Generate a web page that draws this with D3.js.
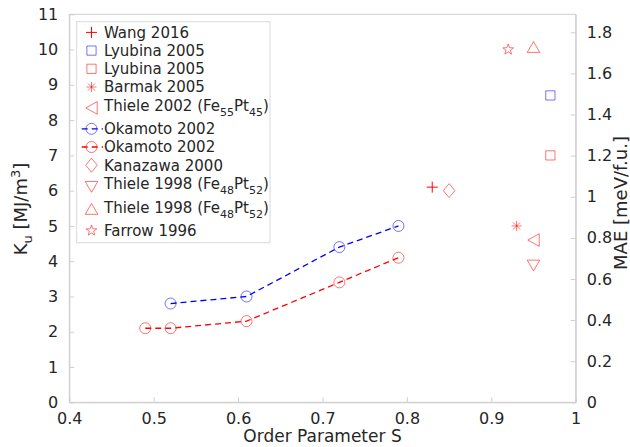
<html lang="en">
<head>
    <meta charset="UTF-8">
    <title>Order parameter vs anisotropy</title>
    <style>
        body { margin: 0; background: #fff; }
        text { font-family: "DejaVu Sans", sans-serif; fill: #262626; }
    </style>
</head>
<body>
<script src="https://d3js.org/d3.v7.min.js"></script>
<svg id="chart"></svg>
<script>
    // data
    var okamotoBlueS = [0.52, 0.61, 0.72, 0.79],
        okamotoBlueK = [2.8, 3.0, 4.4, 5.0];
    var okamotoRedS = [0.49, 0.52, 0.61, 0.72, 0.79],
        okamotoRedK = [2.1, 2.1, 2.3, 3.4, 4.1];

    var pointNames = ["Wang 2016", "Lyubina 2005", "Lyubina 2005", "Barmak 2005",
                      "Thiele 2002", "Kanazawa 2000", "Thiele 1998", "Thiele 1998", "Farrow 1996"];
    var pointS = [0.83, 0.97, 0.97, 0.93, 0.95, 0.85, 0.95, 0.95, 0.92];
    var pointK = [6.1, 8.7, 7.0, 5.0, 4.6, 6.0, 3.9, 10.05, 10.0];

    var xTicks = [0.4, 0.5, 0.6, 0.7, 0.8, 0.9, 1];
    var yTicks = [0, 1, 2, 3, 4, 5, 6, 7, 8, 9, 10, 11];
    var maeTicks = [0, 0.2, 0.4, 0.6, 0.8, 1, 1.2, 1.4, 1.6, 1.8];
    var maeMax = 1.8876;   // MAE value at Ku = 11

    // marker style per point (same order as pointNames)
    var pointMarker = ["plus", "square", "square", "asterisk", "triLeft", "diamond", "triDown", "triUp", "star"];
    var pointColor = ["red", "blue", "red", "red", "red", "red", "red", "red", "red"];

    var W = 630, H = 447;
    var margin = {top: 14.3, right: 54.3, bottom: 44.7, left: 69.3},
        width = W - margin.left - margin.right,
        height = H - margin.top - margin.bottom;
    var gridColor = "#cfcfcf";

    var svg = d3.select("#chart").attr("width", W).attr("height", H);
    var g = svg.append("g").attr("transform", `translate(${margin.left}, ${margin.top})`);

    var x = d3.scaleLinear().domain([0.4, 1]).range([0, width]);
    var y = d3.scaleLinear().domain([0, 11]).range([height, 0]);
    var yR = d3.scaleLinear().domain([0, maeMax]).range([height, 0]);

    function markerPath(type) {
        switch (type) {
            case "plus": return "M-5.5,0H5.5M0,-5.5V5.5";
            case "asterisk": return "M-5,0H5M0,-5V5M-3.6,-3.6L3.6,3.6M-3.6,3.6L3.6,-3.6";
            case "square": return "M-4.6,-4.6H4.6V4.6H-4.6Z";
            case "circle": return "M-5.5,0A5.5,5.5 0 1,0 5.5,0A5.5,5.5 0 1,0 -5.5,0Z";
            case "diamond": return "M0,-7L5.8,0L0,7L-5.8,0Z";
            case "triLeft": return "M-5.7,0L5.7,-6.3L5.7,6.3Z";
            case "triDown": return "M-6.3,-4.6L6.3,-4.6L0,6.2Z";
            case "triUp": return "M0,-6.2L6.3,4.6L-6.3,4.6Z";
            case "star":
                var pts = [];
                for (var i = 0; i < 10; i++) {
                    var r = i % 2 === 0 ? 5.6 : 2.3,
                        a = -Math.PI / 2 + i * Math.PI / 5;
                    pts.push([r * Math.cos(a), r * Math.sin(a)]);
                }
                return "M" + pts.map(p => p.join(",")).join("L") + "Z";
        }
    }
    function markerWidth(type) { return type === "plus" ? 1 : 0.55; }

    // frame
    g.append("rect")
        .attr("width", width).attr("height", height)
        .attr("fill", "none").attr("stroke", gridColor).attr("stroke-width", 1);

    // axes
    var xAxis = g.append("g").attr("transform", `translate(0, ${height})`)
        .call(d3.axisBottom(x).tickValues(xTicks).tickSizeInner(-5).tickSizeOuter(0).tickPadding(10).tickFormat(d3.format("")));
    var yAxis = g.append("g")
        .call(d3.axisLeft(y).tickValues(yTicks).tickSizeInner(-5).tickSizeOuter(0).tickPadding(11));
    var yAxisR = g.append("g").attr("transform", `translate(${width}, 0)`)
        .call(d3.axisRight(yR).tickValues(maeTicks).tickSizeInner(-5).tickSizeOuter(0).tickPadding(11).tickFormat(d3.format("")));
    [xAxis, yAxis, yAxisR].forEach(function(ax) {
        ax.select(".domain").attr("stroke", gridColor);
        ax.selectAll(".tick line").attr("stroke", gridColor);
        ax.selectAll(".tick text").attr("font-size", "16px").attr("fill", "#262626")
            .style("font-family", "DejaVu Sans, sans-serif");
    });

    // Okamoto dashed lines
    var lines = [
        {s: okamotoBlueS, k: okamotoBlueK, color: "blue"},
        {s: okamotoRedS, k: okamotoRedK, color: "red"}
    ];
    var line = d3.line().x(d => x(d[0])).y(d => y(d[1]));
    lines.forEach(function(l) {
        var pts = l.s.map((s, i) => [s, l.k[i]]);
        g.append("path")
            .attr("d", line(pts))
            .attr("fill", "none").attr("stroke", l.color)
            .attr("stroke-width", 1.3).attr("stroke-dasharray", "6,4");
        g.selectAll(null).data(pts).enter().append("path")
            .attr("transform", d => `translate(${x(d[0])}, ${y(d[1])})`)
            .attr("d", markerPath("circle"))
            .attr("fill", "none").attr("stroke", l.color).attr("stroke-width", markerWidth("circle"));
    });

    // single points
    g.selectAll(null).data(pointS).enter().append("path")
        .attr("transform", (d, i) => `translate(${x(d)}, ${y(pointK[i])})`)
        .attr("d", (d, i) => markerPath(pointMarker[i]))
        .attr("fill", "none")
        .attr("stroke", (d, i) => pointColor[i])
        .attr("stroke-width", (d, i) => markerWidth(pointMarker[i]));

    // axis labels
    svg.append("text")
        .attr("x", margin.left + width / 2).attr("y", 442)
        .attr("text-anchor", "middle").attr("font-size", "17px")
        .text("Order Parameter S");

    var yl = svg.append("text")
        .attr("transform", "translate(27, 209) rotate(-90)")
        .attr("text-anchor", "middle").attr("font-size", "18px");
    yl.append("tspan").text("K");
    yl.append("tspan").attr("dy", 5).attr("font-size", "13px").text("u");
    yl.append("tspan").attr("dy", -5).text(" [MJ/m");
    yl.append("tspan").attr("dy", -7).attr("font-size", "13px").text("3");
    yl.append("tspan").attr("dy", 7).text("]");

    svg.append("text")
        .attr("transform", "translate(627, 203) rotate(-90)")
        .attr("text-anchor", "middle").attr("font-size", "18px")
        .text("MAE [meV/f.u.]");

    // legend
    var legendItems = [
        {label: "Wang 2016", marker: "plus", color: "red"},
        {label: "Lyubina 2005", marker: "square", color: "blue"},
        {label: "Lyubina 2005", marker: "square", color: "red"},
        {label: "Barmak 2005", marker: "asterisk", color: "red"},
        {label: "Thiele 2002 (Fe", sub: ["55", "Pt", "45", ")"], marker: "triLeft", color: "red"},
        {label: "Okamoto 2002", marker: "circle", color: "blue", line: true},
        {label: "Okamoto 2002", marker: "circle", color: "red", line: true},
        {label: "Kanazawa 2000", marker: "diamond", color: "red"},
        {label: "Thiele 1998 (Fe", sub: ["48", "Pt", "52", ")"], marker: "triDown", color: "red"},
        {label: "Thiele 1998 (Fe", sub: ["48", "Pt", "52", ")"], marker: "triUp", color: "red"},
        {label: "Farrow 1996", marker: "star", color: "red"}
    ];
    var legX = 76.7, legY = 21.7, legW = 193.3, legH = 221;
    var lg = svg.append("g");
    lg.append("rect")
        .attr("x", legX).attr("y", legY).attr("width", legW).attr("height", legH)
        .attr("fill", "white").attr("stroke", "#d9d9d9").attr("stroke-width", 1);

    var rowY = 23.3;
    legendItems.forEach(function(it) {
        var h = it.sub ? 23.6 : 18.2;
        var cy = rowY + h / 2;
        rowY += h;
        var ty = it.sub ? cy - 2.5 : cy;
        var row = lg.append("g");
        if (it.line) {
            row.append("line")
                .attr("x1", 81.7).attr("x2", 103).attr("y1", cy).attr("y2", cy)
                .attr("stroke", it.color).attr("stroke-width", 1.3).attr("stroke-dasharray", "6,4");
        }
        row.append("path")
            .attr("transform", `translate(91.5, ${cy})`)
            .attr("d", markerPath(it.marker))
            .attr("fill", "none").attr("stroke", it.color)
            .attr("stroke-width", markerWidth(it.marker));
        var t = row.append("text")
            .attr("x", 104).attr("y", ty + 5.3).attr("font-size", "15px");
        t.append("tspan").text(it.label);
        if (it.sub) {
            t.append("tspan").attr("dy", 5).attr("font-size", "11px").text(it.sub[0]);
            t.append("tspan").attr("dy", -5).text(it.sub[1]);
            t.append("tspan").attr("dy", 5).attr("font-size", "11px").text(it.sub[2]);
            t.append("tspan").attr("dy", -5).text(it.sub[3]);
        }
    });
</script>
</body>
</html>
